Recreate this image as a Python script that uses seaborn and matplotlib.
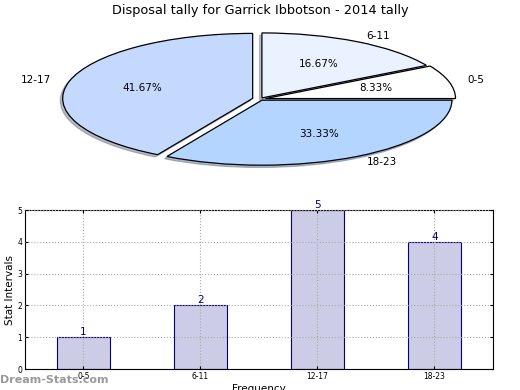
import matplotlib
matplotlib.use("Agg")
import matplotlib.pyplot as plt
import seaborn as sns
import pandas as pd

categories = ["0-5", "6-11", "12-17", "18-23"]
counts = [1, 2, 5, 4]
pie_order = ["6-11", "0-5", "18-23", "12-17"]
pie_colors = ["#ebf2ff", "#ffffff", "#b3d5ff", "#c5d9ff"]
pie_explode = [0.02, 0.03, 0.02, 0.04]
title = "Disposal tally for Garrick Ibbotson - 2014 tally"

sns.set_style("white")
plt.rcParams['font.family'] = ['DejaVu Sans']
plt.rcParams.update({"text.color": "black", "axes.labelcolor": "black",
                     "xtick.color": "black", "ytick.color": "black"})

df = pd.DataFrame({"cat": categories, "count": counts})
fig = plt.figure(figsize=(5.2, 3.9), dpi=100)

# Pie
axp = fig.add_axes([0.0615, 0.546, 0.877, 0.40])
pv = [counts[categories.index(c)] for c in pie_order]
wedges, texts, autotexts = axp.pie(
    pv, labels=pie_order, colors=pie_colors, explode=pie_explode,
    startangle=90, counterclock=False, autopct="%.2f%%",
    shadow=dict(ox=-0.009, oy=-0.025, shade=0.45),
    wedgeprops=dict(edgecolor="black", linewidth=0.9),
    textprops=dict(fontsize=7.5, color="black"))
axp.set_aspect("auto")
axp.set_xlim(-1.2, 1.2)
axp.set_ylim(-1.2, 1.2)
axp.axis("off")
fig.text(0.5, 0.973, title, ha="center", va="center", fontsize=9.3, color="black")

# Bars
axb = fig.add_axes([0.048, 0.0538, 0.9, 0.4077])
sns.barplot(data=df, x="cat", y="count", order=categories, ax=axb,
            color="#ccccE6", saturation=1, width=0.45,
            edgecolor="#000080", linewidth=0.8)
axb.set_xlim(-0.5, 3.5)
axb.set_ylim(0, 5)
axb.set_yticks(range(0, 6))
axb.grid(True, linestyle=":", color="#aaaaaa", linewidth=0.8)
axb.set_axisbelow(False)
for p in axb.patches:
    p.set_zorder(1)
for gl in axb.get_xgridlines() + axb.get_ygridlines():
    gl.set_zorder(2)
for i, v in enumerate(counts):
    axb.text(i, v, str(v), ha="center", va="bottom", color="#000080", fontsize=7.5, zorder=3)
axb.tick_params(axis="both", labelsize=5.5, direction="in", length=2, pad=2,
                top=True, right=True, bottom=True, left=True)
for s in axb.spines.values():
    s.set_visible(True)
    s.set_color("black")
    s.set_linewidth(0.8)
axb.set_xlabel("Frequency", fontsize=7.5, labelpad=2)
axb.set_ylabel("Stat Intervals", fontsize=7.5, labelpad=2)

fig.text(0.0, 0.025, "Dream-Stats.com", ha="left", va="center", fontsize=8,
         color="#999999", fontweight="bold")

fig.savefig("out.png", dpi=100)
